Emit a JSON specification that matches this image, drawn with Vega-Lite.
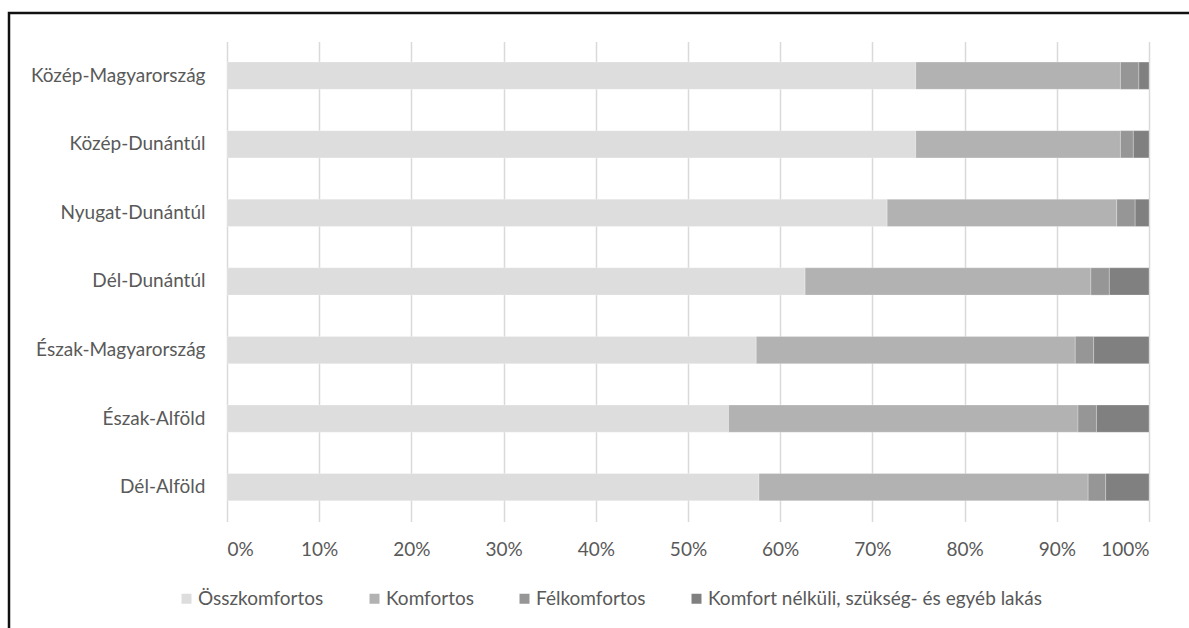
{
  "$schema": "https://vega.github.io/schema/vega-lite/v6.json",
  "autosize": {"type": "none"},
  "padding": {"left": 9, "top": 13, "right": -10, "bottom": -10},
  "width": 1190,
  "height": 625,
  "background": "#ffffff",
  "config": {
    "view": {"stroke": "#111111", "strokeWidth": 2.5, "fill": "#ffffff"},
    "font": "Lato",
    "axis": {"labelFont": "Lato", "labelFontSize": 19, "labelColor": "#595959"},
    "legend": {"labelFont": "Lato", "labelFontSize": 19, "labelColor": "#595959", "labelLimit": 0}
  },
  "data": {
    "values": [
      {"region": "Közép-Magyarország", "category": "Összkomfortos", "rank": 1, "share": 74.7},
      {"region": "Közép-Magyarország", "category": "Komfortos", "rank": 2, "share": 22.2},
      {"region": "Közép-Magyarország", "category": "Félkomfortos", "rank": 3, "share": 2.0},
      {"region": "Közép-Magyarország", "category": "Komfort nélküli, szükség- és egyéb lakás", "rank": 4, "share": 1.1},
      {"region": "Közép-Dunántúl", "category": "Összkomfortos", "rank": 1, "share": 74.7},
      {"region": "Közép-Dunántúl", "category": "Komfortos", "rank": 2, "share": 22.2},
      {"region": "Közép-Dunántúl", "category": "Félkomfortos", "rank": 3, "share": 1.4},
      {"region": "Közép-Dunántúl", "category": "Komfort nélküli, szükség- és egyéb lakás", "rank": 4, "share": 1.7},
      {"region": "Nyugat-Dunántúl", "category": "Összkomfortos", "rank": 1, "share": 71.6},
      {"region": "Nyugat-Dunántúl", "category": "Komfortos", "rank": 2, "share": 24.9},
      {"region": "Nyugat-Dunántúl", "category": "Félkomfortos", "rank": 3, "share": 2.0},
      {"region": "Nyugat-Dunántúl", "category": "Komfort nélküli, szükség- és egyéb lakás", "rank": 4, "share": 1.5},
      {"region": "Dél-Dunántúl", "category": "Összkomfortos", "rank": 1, "share": 62.7},
      {"region": "Dél-Dunántúl", "category": "Komfortos", "rank": 2, "share": 31.0},
      {"region": "Dél-Dunántúl", "category": "Félkomfortos", "rank": 3, "share": 2.0},
      {"region": "Dél-Dunántúl", "category": "Komfort nélküli, szükség- és egyéb lakás", "rank": 4, "share": 4.3},
      {"region": "Észak-Magyarország", "category": "Összkomfortos", "rank": 1, "share": 57.4},
      {"region": "Észak-Magyarország", "category": "Komfortos", "rank": 2, "share": 34.6},
      {"region": "Észak-Magyarország", "category": "Félkomfortos", "rank": 3, "share": 2.0},
      {"region": "Észak-Magyarország", "category": "Komfort nélküli, szükség- és egyéb lakás", "rank": 4, "share": 6.0},
      {"region": "Észak-Alföld", "category": "Összkomfortos", "rank": 1, "share": 54.4},
      {"region": "Észak-Alföld", "category": "Komfortos", "rank": 2, "share": 37.9},
      {"region": "Észak-Alföld", "category": "Félkomfortos", "rank": 3, "share": 2.0},
      {"region": "Észak-Alföld", "category": "Komfort nélküli, szükség- és egyéb lakás", "rank": 4, "share": 5.7},
      {"region": "Dél-Alföld", "category": "Összkomfortos", "rank": 1, "share": 57.7},
      {"region": "Dél-Alföld", "category": "Komfortos", "rank": 2, "share": 35.7},
      {"region": "Dél-Alföld", "category": "Félkomfortos", "rank": 3, "share": 1.9},
      {"region": "Dél-Alföld", "category": "Komfort nélküli, szükség- és egyéb lakás", "rank": 4, "share": 4.7}
    ]
  },
  "resolve": {"axis": {"x": "independent"}},
  "layer": [
    {
      "mark": {"type": "bar", "stroke": "#ffffff", "strokeWidth": 0.5, "strokeOpacity": 0.5},
      "encoding": {
        "y": {
          "field": "region",
          "type": "nominal",
          "sort": ["Közép-Magyarország", "Közép-Dunántúl", "Nyugat-Dunántúl", "Dél-Dunántúl", "Észak-Magyarország", "Észak-Alföld", "Dél-Alföld"],
          "scale": {"range": [28.4, 508.5], "paddingInner": 0.602, "paddingOuter": 0.301},
          "axis": {"orient": "left", "offset": -218, "domain": false, "ticks": false, "grid": false, "labelPadding": 22, "title": null}
        },
        "x": {
          "field": "share",
          "type": "quantitative",
          "stack": "normalize",
          "scale": {"domain": [0, 1], "range": [218, 1140], "nice": false},
          "axis": {
            "orient": "top",
            "grid": true,
            "gridColor": "#d9d9d9",
            "gridWidth": 1.5,
            "labels": false,
            "ticks": false,
            "domain": false,
            "title": null,
            "values": [0, 0.1, 0.2, 0.3, 0.4, 0.5, 0.6, 0.7, 0.8, 0.9, 1]
          }
        },
        "order": {"field": "rank", "type": "ordinal", "sort": "ascending"},
        "color": {
          "field": "category",
          "type": "nominal",
          "scale": {
            "domain": ["Összkomfortos", "Komfortos", "Félkomfortos", "Komfort nélküli, szükség- és egyéb lakás"],
            "range": ["#dddddd", "#b2b2b2", "#969696", "#808080"]
          },
          "legend": {
            "orient": "none",
            "direction": "horizontal",
            "legendX": 168,
            "legendY": 576,
            "title": null,
            "padding": 0,
            "symbolType": "square",
            "symbolSize": 100,
            "symbolStrokeWidth": 0,
            "labelOffset": 2,
            "columnPadding": 41
          }
        }
      }
    },
    {
      "mark": {"type": "rule", "opacity": 0},
      "encoding": {
        "x": {
          "datum": 0,
          "type": "quantitative",
          "axis": {
            "orient": "bottom",
            "offset": -116.5,
            "grid": false,
            "ticks": false,
            "domain": false,
            "title": null,
            "format": ".0%",
            "labelBaseline": "middle",
            "labelPadding": 28,
            "values": [0, 0.1, 0.2, 0.3, 0.4, 0.5, 0.6, 0.7, 0.8, 0.9, 1]
          }
        }
      }
    }
  ]
}
